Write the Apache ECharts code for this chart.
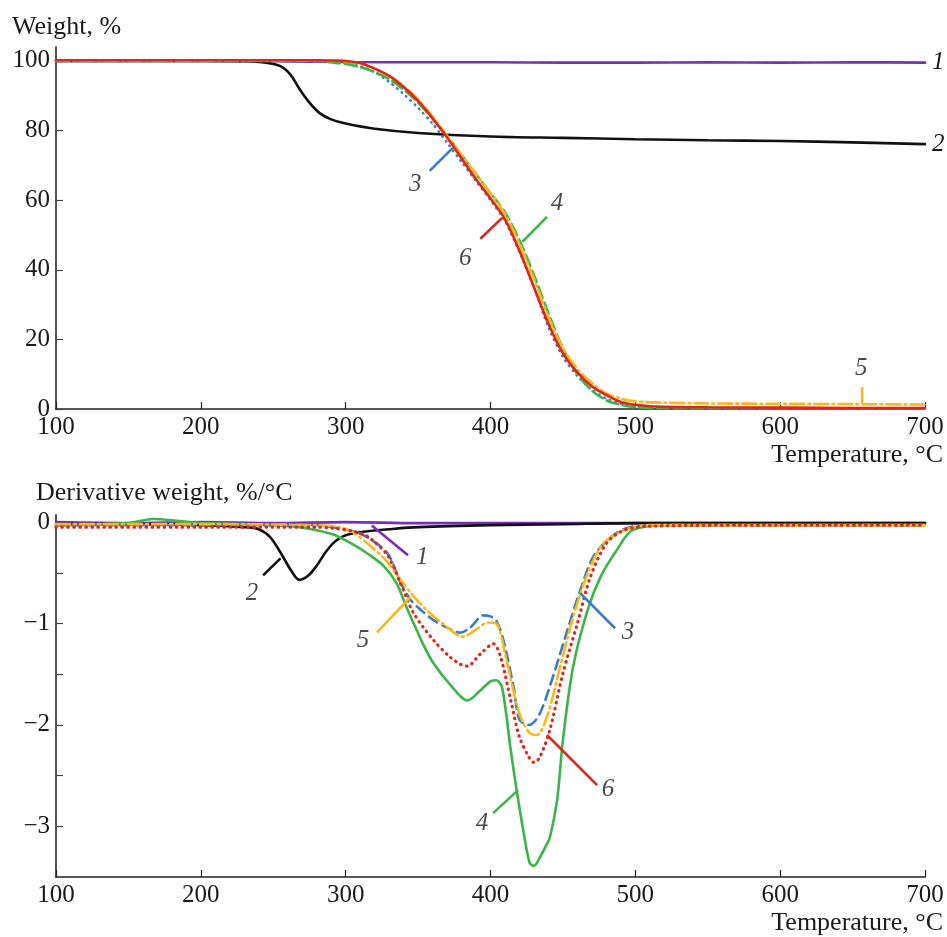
<!DOCTYPE html>
<html><head><meta charset="utf-8">
<script src="https://cdn.jsdelivr.net/npm/echarts@6/dist/echarts.min.js"></script>
<style>html,body{margin:0;padding:0;background:#fff}#c{width:947px;height:937px}</style>
</head><body><div id="c"></div>
<script>
// ---------- DATA ----------
const xTicks = [100, 200, 300, 400, 500, 600, 700];
const tgaTicks = [0, 20, 40, 60, 80, 100];
const dtgTicks = [-3, -2.5, -2, -1.5, -1, -0.5, 0];
const dtgLabels = [-3, -2, -1, 0];

// TGA (Weight, %)
const tga1T = [100, 150, 200, 250, 300, 350, 400, 450, 500, 550, 600, 650, 700];
const tga1W = [100, 100, 100, 99.9, 99.7, 99.6, 99.6, 99.5, 99.5, 99.6, 99.5, 99.6, 99.5];
const tga2T = [100, 200, 230, 245, 255, 262, 268, 275, 282, 290, 300, 320, 350, 400, 450, 500, 550, 600, 650, 700];
const tga2W = [100, 100, 99.9, 99.5, 98.5, 96, 92, 88, 85, 83.2, 82, 80.5, 79.3, 78.3, 77.9, 77.5, 77.2, 77, 76.6, 76.1];
const tgaT = [100, 200, 280, 290, 300, 310, 320, 330, 340, 350, 360, 370, 380, 390, 400, 410, 420, 430, 440, 450, 460, 470, 480, 490, 500, 520, 550, 600, 650, 700];
const tga3W = [100, 100, 100, 99.8, 99.4, 98.5, 96.8, 94, 90.5, 86.5, 82, 76.5, 71, 65.5, 60, 54, 45, 35, 23.5, 15, 9.5, 5.5, 3, 1.5, 0.8, 0.4, 0.3, 0.3, 0.2, 0.2];
const tga4W = [100, 100, 100, 99.6, 99.1, 98.2, 96.8, 94.8, 91.8, 88, 83.5, 78.5, 73, 67.5, 62, 56.5, 48.5, 38.5, 27.5, 17.5, 10, 5.3, 2.5, 1.2, 0.5, 0.3, 0.2, 0.2, 0.2, 0.2];
const tga5W = [100.1, 100.1, 100.1, 100, 99.8, 99.2, 97.8, 95.7, 92.8, 89, 84, 78.5, 73, 67.5, 62, 56, 47.5, 37.5, 26.5, 17.5, 11.5, 7.5, 4.5, 3, 2.2, 1.8, 1.6, 1.5, 1.4, 1.3];
const tga6W = [100.2, 100.2, 100.2, 100.1, 100, 99.4, 97.8, 95.7, 92.5, 88.5, 83.5, 78, 72, 66, 60.5, 54.5, 45.5, 35, 24.5, 16, 10.5, 6.5, 4, 2, 1.2, 0.6, 0.5, 0.4, 0.3, 0.3];

// DTG (Derivative weight, %/°C)
const dtg1T = [100, 150, 200, 250, 300, 350, 400, 450, 500, 550, 600, 650, 700];
const dtg1V = [0, -0.01, 0, -0.01, 0, -0.01, -0.01, -0.01, -0.01, -0.01, -0.01, -0.01, -0.01];
const dtg2T = [100, 150, 200, 230, 240, 248, 255, 262, 268, 274, 280, 286, 292, 300, 315, 330, 350, 400, 450, 500, 600, 700];
const dtg2V = [-0.02, -0.02, -0.03, -0.05, -0.07, -0.15, -0.3, -0.47, -0.57, -0.53, -0.43, -0.3, -0.2, -0.13, -0.09, -0.07, -0.05, -0.03, -0.02, -0.01, -0.01, -0.01];
const dtg3T = [100, 200, 280, 291, 305, 315, 329, 338, 345, 353, 361, 370, 379, 386, 395, 400, 404, 409, 416, 420, 427, 434, 443, 453, 462, 471, 483, 496, 520, 600, 700];
const dtg3V = [-0.03, -0.03, -0.03, -0.05, -0.09, -0.15, -0.31, -0.6, -0.77, -0.88, -0.97, -1.04, -1.09, -1.04, -0.92, -0.93, -0.97, -1.17, -1.63, -1.95, -2.0, -1.89, -1.53, -1.07, -0.67, -0.34, -0.15, -0.05, -0.03, -0.03, -0.03];
const dtg4T = [100, 150, 167, 185, 200, 230, 248, 268, 291, 305, 315, 326, 335, 342, 347, 354, 361, 372, 384, 393, 400, 404, 408, 414, 418, 423, 427, 430, 434, 438, 441, 446, 450, 457, 467, 476, 487, 498, 522, 600, 700];
const dtg4V = [-0.03, -0.01, 0.03, 0.01, -0.01, -0.02, -0.03, -0.05, -0.12, -0.22, -0.31, -0.43, -0.6, -0.84, -1.0, -1.22, -1.4, -1.6, -1.76, -1.66, -1.57, -1.56, -1.63, -2.25, -2.64, -3.07, -3.36, -3.39, -3.31, -3.2, -3.11, -2.74, -2.15, -1.43, -0.87, -0.54, -0.28, -0.08, -0.03, -0.03, -0.03];
const dtg5T = [100, 200, 280, 296, 305, 315, 328, 338, 345, 356, 367, 381, 391, 398, 404, 411, 420, 427, 432, 439, 448, 457, 467, 478, 494, 510, 600, 700];
const dtg5V = [-0.02, -0.02, -0.03, -0.05, -0.1, -0.21, -0.38, -0.57, -0.7, -0.87, -1.0, -1.13, -1.05, -0.99, -1.0, -1.36, -1.89, -2.08, -2.1, -1.92, -1.43, -0.94, -0.51, -0.21, -0.07, -0.03, -0.03, -0.03];
const dtg6T = [100, 200, 280, 291, 305, 315, 329, 338, 347, 361, 372, 379, 384, 393, 402, 407, 414, 420, 427, 430, 434, 441, 450, 460, 469, 480, 492, 510, 600, 700];
const dtg6V = [-0.05, -0.05, -0.05, -0.06, -0.09, -0.14, -0.33, -0.61, -0.9, -1.17, -1.33, -1.4, -1.42, -1.3, -1.2, -1.33, -1.76, -2.12, -2.33, -2.37, -2.32, -2.05, -1.49, -1.0, -0.54, -0.21, -0.08, -0.04, -0.03, -0.03];

// ---------- STYLE / ANNOTATIONS ----------
const C = {1: '#7b2cbf', 2: '#111111', 3: '#3a7cc7', 4: '#3bb54a', 5: '#fbb817', 6: '#e1251b'};
const SERIF = '"Liberation Serif", "DejaVu Serif", serif';
const INK = '#1a1a1a';
const DOT = [0.5, 5.5], DASH_G = [12, 5], DASH_B = [10, 6], DASHDOT = [14, 4, 2, 4];

// leader lines [grid, id, [x1,y1], [x2,y2]] in data units
const leaders = [
  [0, 3, [358, 68.4], [374, 75.0]],
  [0, 6, [393, 48.9], [408, 54.9]],
  [0, 4, [422, 48.0], [439, 55.2]],
  [0, 5, [656.6, 6.3], [656.6, 1.2]],
  [1, 1, [318, -0.033], [343, -0.328]],
  [1, 2, [243, -0.525], [255, -0.358]],
  [1, 5, [321.7, -1.087], [344.5, -0.742]],
  [1, 3, [462, -0.702], [486, -1.047]],
  [1, 6, [439, -2.10], [473.6, -2.594]],
  [1, 4, [401.8, -2.87], [419.1, -2.643]]
];
const labelPos = [
  [0, 3, [348, 64.4]],
  [0, 6, [382.5, 43.4]],
  [0, 4, [446, 59.2]],
  [0, 5, [656, 11.8]],
  [1, 1, [352.8, -0.35]],
  [1, 2, [235.4, -0.70]],
  [1, 5, [312, -1.165]],
  [1, 3, [495, -1.087]],
  [1, 6, [481.2, -2.633]],
  [1, 4, [394.2, -2.968]]
];

function zip(a, b) { return a.map((v, i) => [v, b[i]]); }
function curve(g, id, T, V, type, extra) {
  return Object.assign({
    type: 'line', xAxisIndex: g, yAxisIndex: g, data: zip(T, V),
    showSymbol: false, symbol: 'none', smooth: 0.3, silent: true,
    lineStyle: {color: C[id], width: 2.6, type: type, cap: 'round'},
    itemStyle: {color: C[id]}
  }, extra || {});
}
function endLbl(txt) {
  return {endLabel: {show: true, formatter: txt, distance: 7, fontFamily: SERIF, fontStyle: 'italic', fontSize: 25, color: INK}};
}

const series = [
  curve(0, 1, tga1T, tga1W, 'solid', endLbl('1')),
  curve(0, 2, tga2T, tga2W, 'solid', endLbl('2')),
  curve(0, 3, tgaT, tga3W, DOT),
  curve(0, 4, tgaT, tga4W, DASH_G),
  curve(0, 5, tgaT, tga5W, DASHDOT),
  curve(0, 6, tgaT, tga6W, 'solid'),
  curve(1, 1, dtg1T, dtg1V, 'solid'),
  curve(1, 2, dtg2T, dtg2V, 'solid'),
  curve(1, 4, dtg4T, dtg4V, 'solid'),
  curve(1, 3, dtg3T, dtg3V, DASH_B),
  curve(1, 5, dtg5T, dtg5V, DASHDOT),
  curve(1, 6, dtg6T, dtg6V, DOT, {lineStyle: {color: C[6], width: 3.2, type: DOT, cap: 'round'}})
];
leaders.forEach(([g, id, p1, p2]) => {
  series.push({type: 'line', xAxisIndex: g, yAxisIndex: g, data: [p1, p2], showSymbol: false, symbol: 'none',
    silent: true, z: 5, lineStyle: {color: C[id], width: 2.6, type: 'solid'}});
});
labelPos.forEach(([g, id, p]) => {
  series.push({type: 'scatter', xAxisIndex: g, yAxisIndex: g, clip: false, silent: true, z: 6,
    symbolSize: 1, itemStyle: {color: 'rgba(0,0,0,0)'},
    data: [{name: String(id), value: p}],
    label: {show: true, position: 'inside', formatter: p2 => p2.name, fontFamily: SERIF, fontStyle: 'italic', fontSize: 25, color: INK}});
});

function xAxis(g) {
  return {type: 'value', gridIndex: g, min: 100, max: 700, interval: 100,
    axisLine: {show: true, onZero: false, lineStyle: {color: '#222', width: 1.6}},
    axisTick: {show: true, inside: true, length: 7, lineStyle: {color: '#222', width: 1.2}},
    axisLabel: {fontFamily: SERIF, fontSize: 25, color: INK, margin: 6},
    splitLine: {show: false}};
}
const fmt = v => (v < 0 ? '\u2212' + Math.abs(v) : String(v));

const option = {
  animation: false,
  backgroundColor: '#fff',
  grid: [
    {left: 56, right: 22, top: 47, height: 362},
    {left: 56, right: 22, top: 515, height: 362}
  ],
  xAxis: [xAxis(0), xAxis(1)],
  yAxis: [
    {type: 'value', gridIndex: 0, min: 0, max: 104,
      axisLine: {show: true, onZero: false, lineStyle: {color: '#555', width: 2}},
      axisTick: {show: true, inside: true, length: 7, customValues: tgaTicks, lineStyle: {color: '#444', width: 1.2}},
      axisLabel: {customValues: tgaTicks, fontFamily: SERIF, fontSize: 25, color: INK, margin: 6},
      splitLine: {show: false}},
    {type: 'value', gridIndex: 1, min: -3.5, max: 0.07,
      axisLine: {show: true, onZero: false, lineStyle: {color: '#555', width: 2}},
      axisTick: {show: true, inside: true, length: 7, customValues: dtgTicks, lineStyle: {color: '#444', width: 1.2}},
      axisLabel: {customValues: dtgLabels, formatter: fmt, fontFamily: SERIF, fontSize: 25, color: INK, margin: 6},
      splitLine: {show: false}}
  ],
  graphic: [
    {type: 'text', left: 12, top: 14, style: {text: 'Weight, %', font: '26px ' + SERIF, fill: INK}},
    {type: 'text', right: 4, top: 442, style: {text: 'Temperature, \u00B0C', font: '26px ' + SERIF, fill: INK}},
    {type: 'text', left: 36, top: 480, style: {text: 'Derivative weight, %/\u00B0C', font: '26px ' + SERIF, fill: INK}},
    {type: 'text', right: 4, top: 910, style: {text: 'Temperature, \u00B0C', font: '26px ' + SERIF, fill: INK}}
  ],
  series: series
};
const chart = echarts.init(document.getElementById('c'), null, {renderer: 'canvas'});
chart.setOption(option);
</script></body></html>
